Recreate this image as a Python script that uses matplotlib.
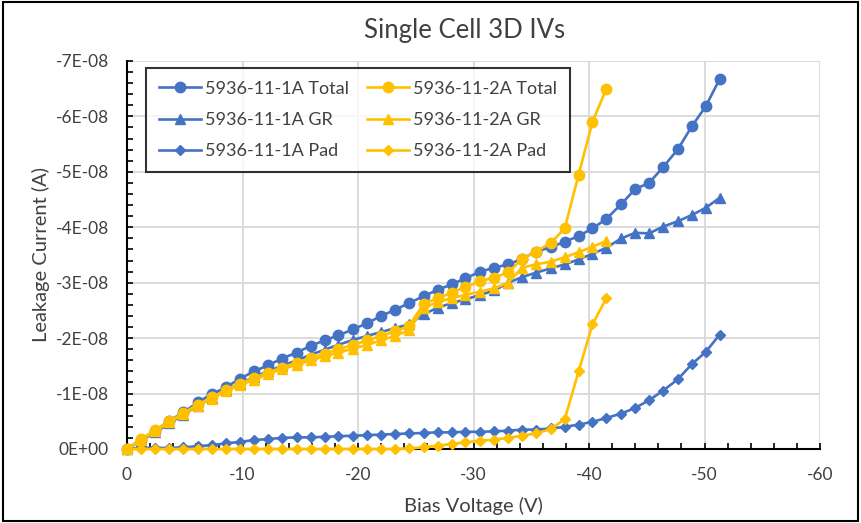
import matplotlib
matplotlib.use("Agg")
import matplotlib.pyplot as plt
from matplotlib.ticker import MultipleLocator, FuncFormatter
from matplotlib.patches import Rectangle

plt.rcParams['font.family'] = ['Lato', 'DejaVu Sans']

# bias voltage steps (V)
volts = [0, -1.22, -2.44, -3.67, -4.89, -6.11, -7.33, -8.55, -9.78, -11.0,
         -12.2, -13.4, -14.7, -15.9, -17.1, -18.3, -19.6, -20.8, -22.0, -23.2,
         -24.4, -25.7, -26.9, -28.1, -29.3, -30.6, -31.8, -33.0, -34.2, -35.4,
         -36.7, -37.9, -39.1, -40.3, -41.5, -42.8, -44.0, -45.2, -46.4, -47.7,
         -48.9, -50.1, -51.3]

# leakage currents in nA
a1_total = [0, -1.7, -3.3, -5.1, -6.6, -8.4, -9.9, -11.1, -12.7, -14.0,
            -15.1, -16.3, -17.4, -18.6, -19.6, -20.5, -21.6, -22.7, -24.0, -25.1,
            -26.3, -27.6, -28.7, -29.7, -30.8, -32.0, -32.7, -33.3, -34.3, -35.6,
            -36.4, -37.4, -38.4, -39.8, -41.5, -44.2, -46.9, -48.0, -50.8, -54.1,
            -58.2, -61.8, -66.7]
a1_gr = [0, -1.5, -3.0, -4.6, -6.2, -7.8, -9.2, -10.6, -11.8, -13.0,
         -14.0, -15.0, -16.0, -17.0, -17.9, -18.8, -19.7, -20.4, -21.1, -21.8,
         -22.5, -24.3, -25.5, -26.3, -27.0, -27.8, -28.6, -30.0, -31.0, -31.8,
         -32.6, -33.3, -34.2, -35.2, -36.3, -38.0, -39.0, -38.9, -40.1, -41.1,
         -42.2, -43.5, -45.3]
a1_pad = [0, -0.2, -0.2, -0.2, -0.3, -0.5, -0.7, -1.0, -1.3, -1.6,
          -1.8, -2.0, -2.1, -2.1, -2.2, -2.3, -2.4, -2.5, -2.6, -2.7,
          -2.8, -2.9, -3.0, -3.0, -3.1, -3.1, -3.2, -3.3, -3.5, -3.5,
          -3.7, -4.0, -4.4, -4.9, -5.6, -6.4, -7.4, -8.8, -10.5, -12.6,
          -15.3, -17.5, -20.6]

a2_total = [0, -1.8, -3.4, -5.0, -6.5, -8.0, -9.3, -10.6, -11.8, -12.8,
            -13.8, -14.7, -15.6, -16.4, -17.2, -18.0, -18.8, -19.6, -20.4, -21.2,
            -22.2, -26.2, -27.2, -28.2, -29.2, -30.3, -30.9, -31.9, -34.2, -35.6,
            -37.2, -39.8, -49.5, -59.0, -65.0]
a2_gr = [0, -1.6, -3.2, -4.8, -6.3, -7.8, -9.1, -10.4, -11.5, -12.5,
         -13.5, -14.4, -15.2, -16.0, -16.7, -17.4, -18.1, -18.8, -19.6, -20.4,
         -21.4, -25.5, -26.5, -27.2, -27.8, -28.4, -29.0, -30.0, -32.7, -33.3,
         -33.8, -34.6, -35.5, -36.5, -37.5]
a2_pad = [0, 0, 0, 0, 0, 0, 0, 0, 0, 0,
          0, 0, 0, 0, 0, 0, 0, 0, 0, 0,
          -0.1, -0.3, -0.6, -0.9, -1.2, -1.5, -1.7, -2.0, -2.4, -2.8,
          -3.6, -5.4, -14.0, -22.5, -27.2]

blue = '#4472C4'
gold = '#FFC000'

fig = plt.figure(figsize=(8.61, 5.23), dpi=100)
ax = fig.add_axes([0.1475, 0.1415, 0.8049, 0.7419])

series = [
    (a1_total, blue, 'o', 7.5, '5936-11-1A Total'),
    (a1_gr, blue, '^', 7.5, '5936-11-1A GR'),
    (a1_pad, blue, 'D', 5.5, '5936-11-1A Pad'),
    (a2_total, gold, 'o', 7.5, '5936-11-2A Total'),
    (a2_gr, gold, '^', 7.5, '5936-11-2A GR'),
    (a2_pad, gold, 'D', 5.5, '5936-11-2A Pad'),
]
for vals, col, mk, ms, name in series:
    v = volts[:len(vals)]
    amps = [x * 1e-9 for x in vals]
    ax.plot(v, amps, color=col, marker=mk, markersize=ms, lw=1.9,
            label=name, clip_on=False, zorder=3)

ax.set_xlim(0, -60)
ax.set_ylim(0, -7e-8)
ax.xaxis.set_major_locator(MultipleLocator(10))
ax.xaxis.set_minor_locator(MultipleLocator(2))
ax.yaxis.set_major_locator(MultipleLocator(1e-8))
ax.yaxis.set_minor_locator(MultipleLocator(2e-9))
ax.yaxis.set_major_formatter(FuncFormatter(lambda v, p: f"{v:.0E}"))
ax.xaxis.set_major_formatter(FuncFormatter(lambda v, p: f"{v:.0f}" if v != 0 else "0"))

ax.grid(True, which='major', color='#d9d9d9', lw=1.3, zorder=0)
ax.set_axisbelow(True)
for s in ['top', 'right']:
    ax.spines[s].set_visible(False)
for s in ['left', 'bottom']:
    ax.spines[s].set_linewidth(1.5)
    ax.spines[s].set_zorder(2)
ax.tick_params(which='both', direction='in', length=4, width=1.2, labelsize=12.5,
               colors='black', labelcolor='#404040')
ax.tick_params(axis='y', which='both', pad=13)
ax.tick_params(axis='x', which='both', pad=13)

ax.set_xlabel('Bias Voltage (V)', fontsize=14.5, color='#404040', labelpad=10)
ax.set_ylabel('Leakage Current (A)', fontsize=14.5, color='#404040', labelpad=4)

fig.text(0.540, 0.941, 'Single Cell 3D IVs', ha='center', va='center',
         fontsize=18.5, color='#404040')

leg = ax.legend(ncol=2, loc='upper left', bbox_to_anchor=(0.028, 0.982),
                borderaxespad=0, fontsize=13, frameon=True, fancybox=False,
                handlelength=2.3, columnspacing=1.0, labelspacing=0.85,
                borderpad=0.7, handletextpad=0.25)
leg.get_frame().set_edgecolor('black')
leg.get_frame().set_linewidth(1.5)
for t in leg.get_texts():
    t.set_color('#404040')

fig.patches.append(Rectangle((0.003, 0.004), 0.994, 0.992, transform=fig.transFigure,
                             fill=False, edgecolor='black', lw=1.5))

fig.savefig('out.png', dpi=100)
